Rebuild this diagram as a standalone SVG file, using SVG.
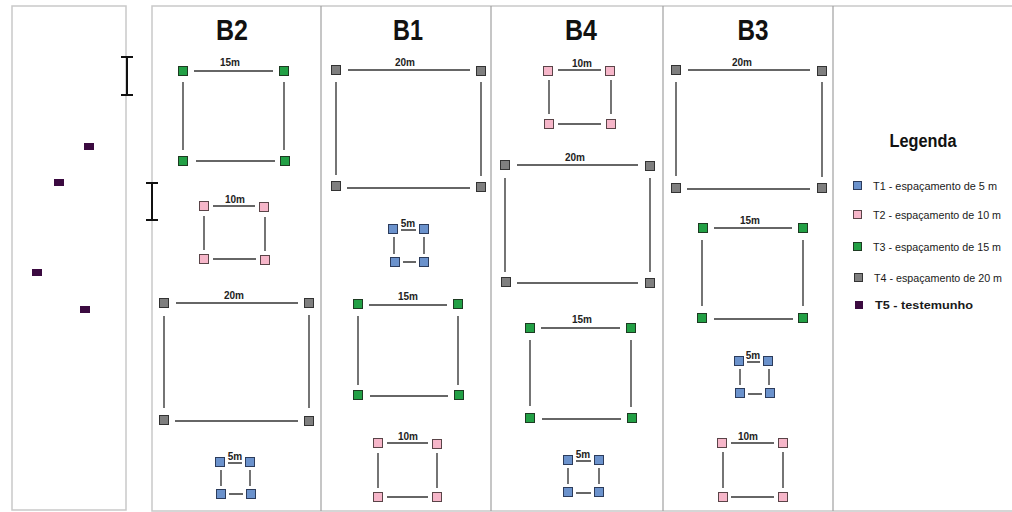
<svg xmlns="http://www.w3.org/2000/svg" width="1012" height="512" viewBox="0 0 1012 512">
<defs>
<style>
.frame{fill:none;stroke:#c9c9c9;stroke-width:1.5}
.div{stroke:#a0a0a0;stroke-width:1.2}
.ln{stroke:#666;stroke-width:1.8;fill:none}
.br{stroke:#111;stroke-width:2;fill:none}
.g{fill:#22a045;stroke:#1d3b22;stroke-width:1}
.p{fill:#f6b6c9;stroke:#5a4448;stroke-width:1}
.k{fill:#7f7f7f;stroke:#333;stroke-width:1}
.b{fill:#6b92cc;stroke:#2c3c5c;stroke-width:1}
.t5{fill:#3b0a40}
.hd{font-family:"Liberation Sans",Arial,sans-serif;font-weight:bold;font-size:30px;fill:#111;text-anchor:middle}
.lb{font-family:"Liberation Sans",Arial,sans-serif;font-weight:bold;font-size:10px;fill:#222;text-anchor:middle}
.lg{font-family:"Liberation Sans",Arial,sans-serif;font-size:11px;fill:#1a1a1a}
.lgt{font-family:"Liberation Sans",Arial,sans-serif;font-weight:bold;font-size:18px;fill:#111;text-anchor:middle}
</style>
</defs>
<rect width="1012" height="512" fill="#fff"/>
<g id="frames">
<rect class="frame" x="12" y="6" width="114" height="504"/>
<path class="frame" d="M1012,6 H152 V511 H1012"/>
<line class="div" x1="321" y1="6" x2="321" y2="511"/>
<line class="div" x1="491" y1="6" x2="491" y2="511"/>
<line class="div" x1="663" y1="6" x2="663" y2="511"/>
<line class="div" x1="833" y1="6" x2="833" y2="511"/>
</g>
<g id="headers">
<text class="hd" x="232" y="40" textLength="32" lengthAdjust="spacingAndGlyphs">B2</text>
<text class="hd" x="408" y="40" textLength="30" lengthAdjust="spacingAndGlyphs">B1</text>
<text class="hd" x="581" y="40" textLength="32" lengthAdjust="spacingAndGlyphs">B4</text>
<text class="hd" x="753" y="40" textLength="31" lengthAdjust="spacingAndGlyphs">B3</text>
</g>
<g id="brackets">
<path class="br" d="M121,57 H133 M127,57 V95 M121,95 H133"/>
<path class="br" d="M146,183 H158 M152,183 V220 M146,220 H158"/>
</g>
<g id="testemunho">
<rect class="t5" x="84" y="143" width="10" height="7"/>
<rect class="t5" x="54" y="179" width="10" height="7"/>
<rect class="t5" x="32" y="269" width="10" height="7"/>
<rect class="t5" x="80" y="306" width="10" height="7"/>
</g>
<g id="connectors">
<path class="ln" d="M194,71 H273 M196,161 H275 M183,82 V150 M284,82 V150"/>
<path class="ln" d="M213,206 H255 M213,259 H256 M204,216 V250 M265,217 V251"/>
<path class="ln" d="M176,303 H298 M175,421 H298 M164,316 V408 M309,315 V408"/>
<path class="ln" d="M228,463 H242 M229,494 H243 M221,470 V486 M250,470 V486"/>
<path class="ln" d="M348,70 H470 M347,188 H470 M336,82 V175 M481,82 V176"/>
<path class="ln" d="M401,230 H416 M403,262 H416 M394,237 V254 M424,237 V254"/>
<path class="ln" d="M369,305 H447 M370,396 H448 M358,316 V385 M458,316 V385"/>
<path class="ln" d="M387,443 H428 M387,497 H428 M378,453 V488 M437,453 V488"/>
<path class="ln" d="M558,70 H601 M558,124 H601 M549,80 V114 M611,80 V114"/>
<path class="ln" d="M517,165 H638 M517,283 H638 M505,178 V272 M650,178 V272"/>
<path class="ln" d="M541,328 H620 M542,419 H621 M530,340 V406 M631,340 V407"/>
<path class="ln" d="M576,461 H591 M576,493 H591 M568,468 V484 M599,468 V484"/>
<path class="ln" d="M688,70 H810 M687,189 H810 M676,82 V176 M822,82 V177"/>
<path class="ln" d="M714,228 H792 M714,319 H793 M702,240 V306 M803,240 V306"/>
<path class="ln" d="M747,362 H760 M748,394 H762 M740,369 V385 M769,369 V385"/>
<path class="ln" d="M731,443 H774 M731,497 H774 M723,452 V488 M783,452 V488"/>
</g>
<g id="B2-15m">
<rect class="g" x="178.5" y="66.5" width="9" height="9"/><rect class="g" x="279.5" y="66.5" width="9" height="9"/>
<rect class="g" x="178.5" y="156.5" width="9" height="9"/><rect class="g" x="280.5" y="156.5" width="9" height="9"/>
<text class="lb" x="230" y="66">15m</text>
</g>
<g id="B2-10m">
<rect class="p" x="199.5" y="201.5" width="9" height="9"/><rect class="p" x="259.5" y="202.5" width="9" height="9"/>
<rect class="p" x="199.5" y="254.5" width="9" height="9"/><rect class="p" x="260.5" y="255.5" width="9" height="9"/>
<text class="lb" x="235" y="203">10m</text>
</g>
<g id="B2-20m">
<rect class="k" x="159.5" y="298.5" width="9" height="9"/><rect class="k" x="304.5" y="298.5" width="9" height="9"/>
<rect class="k" x="159.5" y="415.5" width="9" height="9"/><rect class="k" x="304.5" y="416.5" width="9" height="9"/>
<text class="lb" x="234" y="299">20m</text>
</g>
<g id="B2-5m">
<rect class="b" x="215.5" y="457.5" width="9" height="9"/><rect class="b" x="245.5" y="457.5" width="9" height="9"/>
<rect class="b" x="216.5" y="489.5" width="9" height="9"/><rect class="b" x="246.5" y="489.5" width="9" height="9"/>
<text class="lb" x="235" y="460">5m</text>
</g>
<g id="B1-20m">
<rect class="k" x="331.5" y="65.5" width="9" height="9"/><rect class="k" x="476.5" y="66.5" width="9" height="9"/>
<rect class="k" x="331.5" y="181.5" width="9" height="9"/><rect class="k" x="476.5" y="182.5" width="9" height="9"/>
<text class="lb" x="405" y="66">20m</text>
</g>
<g id="B1-5m">
<rect class="b" x="388.5" y="224.5" width="9" height="9"/><rect class="b" x="419.5" y="224.5" width="9" height="9"/>
<rect class="b" x="390.5" y="257.5" width="9" height="9"/><rect class="b" x="419.5" y="257.5" width="9" height="9"/>
<text class="lb" x="408" y="227">5m</text>
</g>
<g id="B1-15m">
<rect class="g" x="353.5" y="299.5" width="9" height="9"/><rect class="g" x="453.5" y="299.5" width="9" height="9"/>
<rect class="g" x="353.5" y="390.5" width="9" height="9"/><rect class="g" x="454.5" y="390.5" width="9" height="9"/>
<text class="lb" x="408" y="300">15m</text>
</g>
<g id="B1-10m">
<rect class="p" x="373.5" y="438.5" width="9" height="9"/><rect class="p" x="432.5" y="439.5" width="9" height="9"/>
<rect class="p" x="373.5" y="492.5" width="9" height="9"/><rect class="p" x="432.5" y="492.5" width="9" height="9"/>
<text class="lb" x="408" y="440">10m</text>
</g>
<g id="B4-10m">
<rect class="p" x="543.5" y="66.5" width="9" height="9"/><rect class="p" x="605.5" y="66.5" width="9" height="9"/>
<rect class="p" x="544.5" y="119.5" width="9" height="9"/><rect class="p" x="606.5" y="119.5" width="9" height="9"/>
<text class="lb" x="582" y="67">10m</text>
</g>
<g id="B4-20m">
<rect class="k" x="500.5" y="160.5" width="9" height="9"/><rect class="k" x="645.5" y="161.5" width="9" height="9"/>
<rect class="k" x="501.5" y="277.5" width="9" height="9"/><rect class="k" x="645.5" y="278.5" width="9" height="9"/>
<text class="lb" x="575" y="161">20m</text>
</g>
<g id="B4-15m">
<rect class="g" x="525.5" y="323.5" width="9" height="9"/><rect class="g" x="626.5" y="323.5" width="9" height="9"/>
<rect class="g" x="525.5" y="413.5" width="9" height="9"/><rect class="g" x="627.5" y="413.5" width="9" height="9"/>
<text class="lb" x="582" y="323">15m</text>
</g>
<g id="B4-5m">
<rect class="b" x="563.5" y="455.5" width="9" height="9"/><rect class="b" x="594.5" y="455.5" width="9" height="9"/>
<rect class="b" x="563.5" y="487.5" width="9" height="9"/><rect class="b" x="594.5" y="487.5" width="9" height="9"/>
<text class="lb" x="583" y="458">5m</text>
</g>
<g id="B3-20m">
<rect class="k" x="671.5" y="65.5" width="9" height="9"/><rect class="k" x="817.5" y="66.5" width="9" height="9"/>
<rect class="k" x="671.5" y="183.5" width="9" height="9"/><rect class="k" x="817.5" y="183.5" width="9" height="9"/>
<text class="lb" x="742" y="66">20m</text>
</g>
<g id="B3-15m">
<rect class="g" x="698.5" y="223.5" width="9" height="9"/><rect class="g" x="798.5" y="223.5" width="9" height="9"/>
<rect class="g" x="697.5" y="313.5" width="9" height="9"/><rect class="g" x="798.5" y="313.5" width="9" height="9"/>
<text class="lb" x="750" y="224">15m</text>
</g>
<g id="B3-5m">
<rect class="b" x="734.5" y="356.5" width="9" height="9"/><rect class="b" x="763.5" y="356.5" width="9" height="9"/>
<rect class="b" x="735.5" y="388.5" width="9" height="9"/><rect class="b" x="765.5" y="388.5" width="9" height="9"/>
<text class="lb" x="753" y="359">5m</text>
</g>
<g id="B3-10m">
<rect class="p" x="717.5" y="438.5" width="9" height="9"/><rect class="p" x="778.5" y="438.5" width="9" height="9"/>
<rect class="p" x="718.5" y="492.5" width="9" height="9"/><rect class="p" x="778.5" y="492.5" width="9" height="9"/>
<text class="lb" x="748" y="440">10m</text>
</g>
<g id="legend">
<text class="lgt" x="923" y="147" textLength="67" lengthAdjust="spacingAndGlyphs">Legenda</text>
<rect class="b" x="853.5" y="181.5" width="8" height="8"/>
<text class="lg" x="873" y="190" textLength="124" lengthAdjust="spacingAndGlyphs">T1 - espaçamento de 5 m</text>
<rect class="p" x="853.5" y="210.5" width="8" height="8"/>
<text class="lg" x="873" y="219" textLength="128" lengthAdjust="spacingAndGlyphs">T2 - espaçamento de 10 m</text>
<rect class="g" x="853.5" y="242.5" width="8" height="8"/>
<text class="lg" x="873" y="251" textLength="128" lengthAdjust="spacingAndGlyphs">T3 - espaçamento de 15 m</text>
<rect class="k" x="854.5" y="273.5" width="8" height="8"/>
<text class="lg" x="874" y="282" textLength="128" lengthAdjust="spacingAndGlyphs">T4 - espaçamento de 20 m</text>
<rect class="t5" x="855" y="301" width="8" height="8"/>
<text class="lg" x="875" y="309" font-weight="bold" textLength="98" lengthAdjust="spacingAndGlyphs">T5 - testemunho</text>
</g>
</svg>
